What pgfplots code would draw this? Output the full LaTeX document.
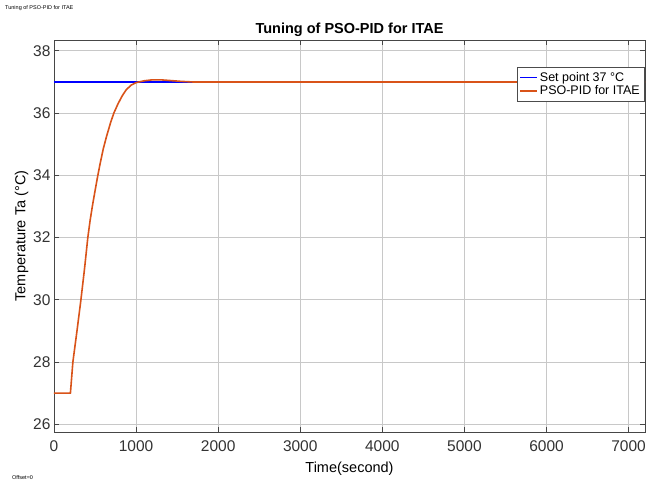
\documentclass[border=0pt]{standalone}
\usepackage{fontspec}
\setmainfont{Liberation Sans}
\usepackage{pgfplots}
\pgfplotsset{compat=1.18}
\definecolor{setblue}{RGB}{0,0,255}
\definecolor{pidorange}{RGB}{217,83,25}
\definecolor{gridgray}{RGB}{200,200,200}
\definecolor{axgray}{RGB}{70,70,70}

\begin{document}
\begin{tikzpicture}
\begin{axis}[
    scale only axis,
    width=591pt,height=392pt,
    xmin=0,xmax=7200,
    ymin=25.75,ymax=38.35,
    xtick={0,1000,2000,3000,4000,5000,6000,7000},
    ytick={26,28,30,32,34,36,38},
    scaled x ticks=false,
    /pgf/number format/assume math mode=true,
    /pgf/number format/1000 sep={},
    tick label style={font=\fontsize{15.5}{17}\selectfont, text=black!80},
    xticklabel style={yshift=-5pt},
    tick align=inside,
    major tick length=5pt,
    grid=major,
    grid style={gridgray,line width=0.8pt},
    axis line style={axgray,line width=0.9pt},
    tick style={axgray,line width=0.8pt},
    title={\textbf{Tuning of PSO-PID for ITAE}},
    title style={font=\fontsize{14.5}{16}\selectfont, yshift=-6pt},
    xlabel={Time(second)},
    ylabel={Temperature Ta (°C)},
    xlabel style={font=\fontsize{14.5}{16}\selectfont, yshift=-4pt},
    ylabel style={font=\fontsize{14.5}{16}\selectfont, yshift=-2pt},
    legend style={at={(rel axis cs:0.999,0.93)},anchor=north east,
        font=\fontsize{12.5}{14}\selectfont,draw=black!70,
        row sep=-1pt,inner sep=2.5pt},
    legend cell align=left,
]
\addplot[setblue,line width=1.2pt] coordinates {(0,37) (7200,37)};
\addlegendentry{Set point 37 °C}
\addplot[pidorange,line width=1.6pt] coordinates {
(0,27) (200,27) (212,27.4) (230,28) (280,29) (328,30) (372,31) (412,32)
(440,32.55) (470,33.05) (500,33.5) (527,33.9) (560,34.35) (600,34.85)
(640,35.25) (690,35.7) (729,36) (780,36.3) (830,36.55) (880,36.75)
(940,36.9) (1000,36.98) (1100,37.04) (1200,37.07) (1300,37.07)
(1400,37.05) (1550,37.02) (1700,37.0) (7200,37)};
\addlegendentry{PSO-PID for ITAE}
\end{axis}
\node[anchor=north west,font=\fontsize{5.5}{6}\selectfont,inner sep=0pt] at (-49pt,427pt) {Tuning of PSO-PID for ITAE};
\node[anchor=south west,font=\fontsize{5.5}{6}\selectfont,inner sep=0pt] at (-42pt,-48pt) {Offset=0};
\path[use as bounding box] (-54pt,-51pt) rectangle (601pt,432pt);
\end{tikzpicture}
\end{document}
